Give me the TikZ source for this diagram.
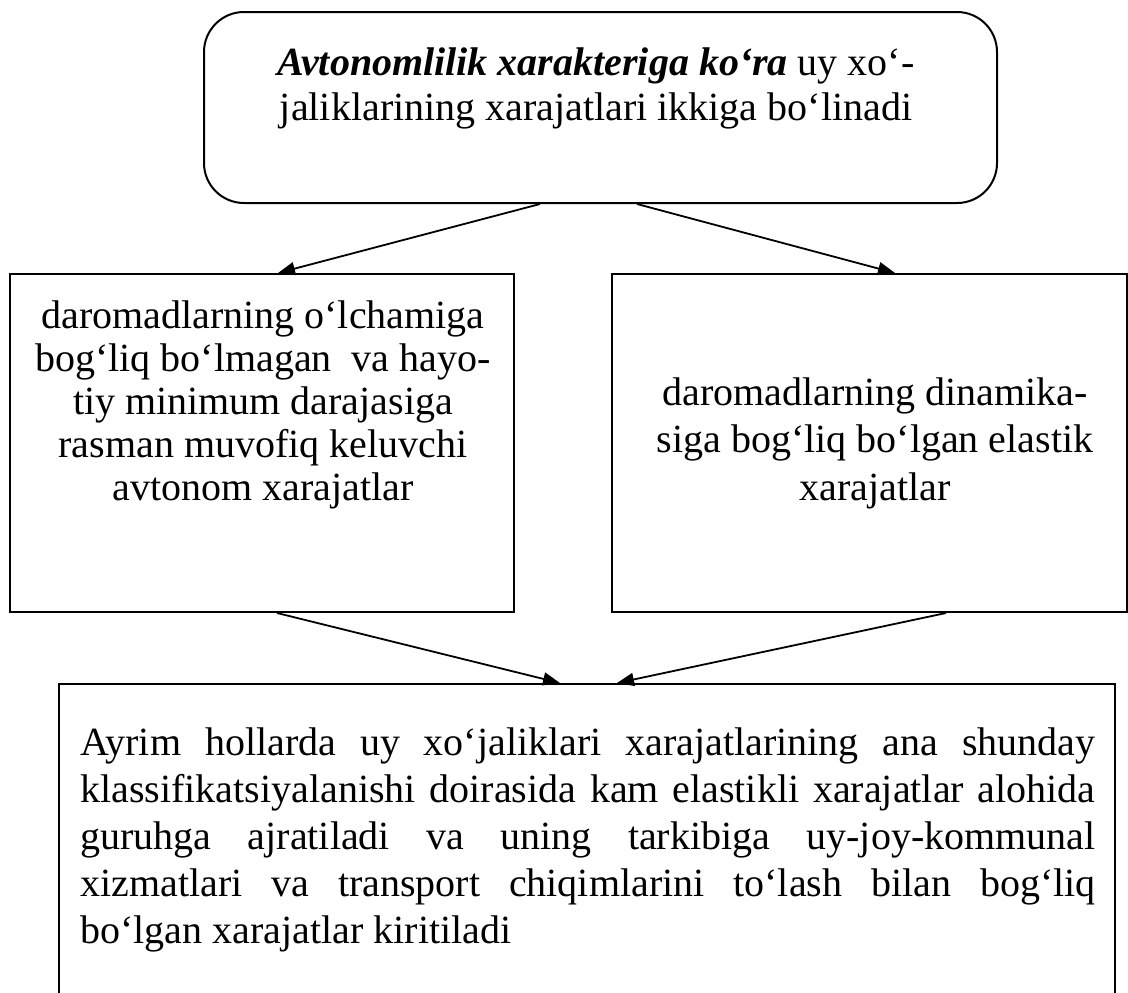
\documentclass[tikz,border=0pt]{standalone}
\usepackage{fontspec}
\setmainfont{Liberation Serif}[Ligatures={TeX,NoCommon}]
\usetikzlibrary{arrows.meta}
\newlength{\btw}
\setlength{\btw}{507.5pt}
\begin{document}
\begin{tikzpicture}[x=0.5pt,y=-0.5pt,
  box/.style={draw, line width=1pt, inner sep=0pt},
  txt/.style={inner sep=0pt, font=\fontsize{20pt}{23.5pt}\selectfont},
  arr/.style={line width=0.9pt, -{Triangle[length=8.5pt,width=6.5pt]}}]
\useasboundingbox (0,0) rectangle (1128,992);
\node[box, rounded corners=20pt, minimum width=396.5pt, minimum height=95.5pt] (top) at (600.5,107.5) {};
\node[box, minimum width=252pt, minimum height=169pt] (left) at (262,443) {};
\node[box, minimum width=257.5pt, minimum height=169pt] (right) at (869.5,443) {};
\node[box, minimum width=528pt, minimum height=158pt] (bottom) at (587,842) {};
\node[txt, anchor=north, align=center, font=\fontsize{20pt}{22.5pt}\selectfont] (toptext) at (596,47)
  {\textbf{\textit{Avtonomlilik xarakteriga ko‘ra}} uy xo‘-\\jaliklarining xarajatlari ikkiga bo‘linadi};
\node[txt, anchor=north, align=center, font=\fontsize{20pt}{21.5pt}\selectfont] (lefttext) at (263,300)
  {daromadlarning o‘lchamiga\\bog‘liq bo‘lmagan\ \ va hayo-\\tiy minimum darajasiga\\rasman muvofiq keluvchi\\avtonom xarajatlar};
\node[txt, anchor=north, align=center, font=\fontsize{20pt}{23.75pt}\selectfont] (righttext) at (875,377)
  {daromadlarning dinamika-\\siga bog‘liq bo‘lgan elastik\\xarajatlar};
\node[txt, anchor=north west, align=left] (bottomtext) at (80,727)
  {\makebox[\btw][s]{Ayrim hollarda uy xo‘jaliklari xarajatlarining ana shunday}\\
   \makebox[\btw][s]{klassifikatsiyalanishi doirasida kam elastikli xarajatlar alohida}\\
   \makebox[\btw][s]{guruhga ajratiladi va uning tarkibiga uy-joy-kommunal}\\
   \makebox[\btw][s]{xizmatlari va transport chiqimlarini to‘lash bilan bog‘liq}\\
   bo‘lgan xarajatlar kiritiladi};
\draw[arr] ([xshift=-30.25pt]top.south) -- ([xshift=8pt]left.north);
\draw[arr] ([xshift=18.25pt]top.south) -- ([xshift=12.75pt]right.north);
\draw[arr] ([xshift=7.5pt]left.south) -- ([xshift=-13.5pt]bottom.north);
\draw[arr] ([xshift=38.25pt]right.south) -- ([xshift=15pt]bottom.north);
\end{tikzpicture}
\end{document}
